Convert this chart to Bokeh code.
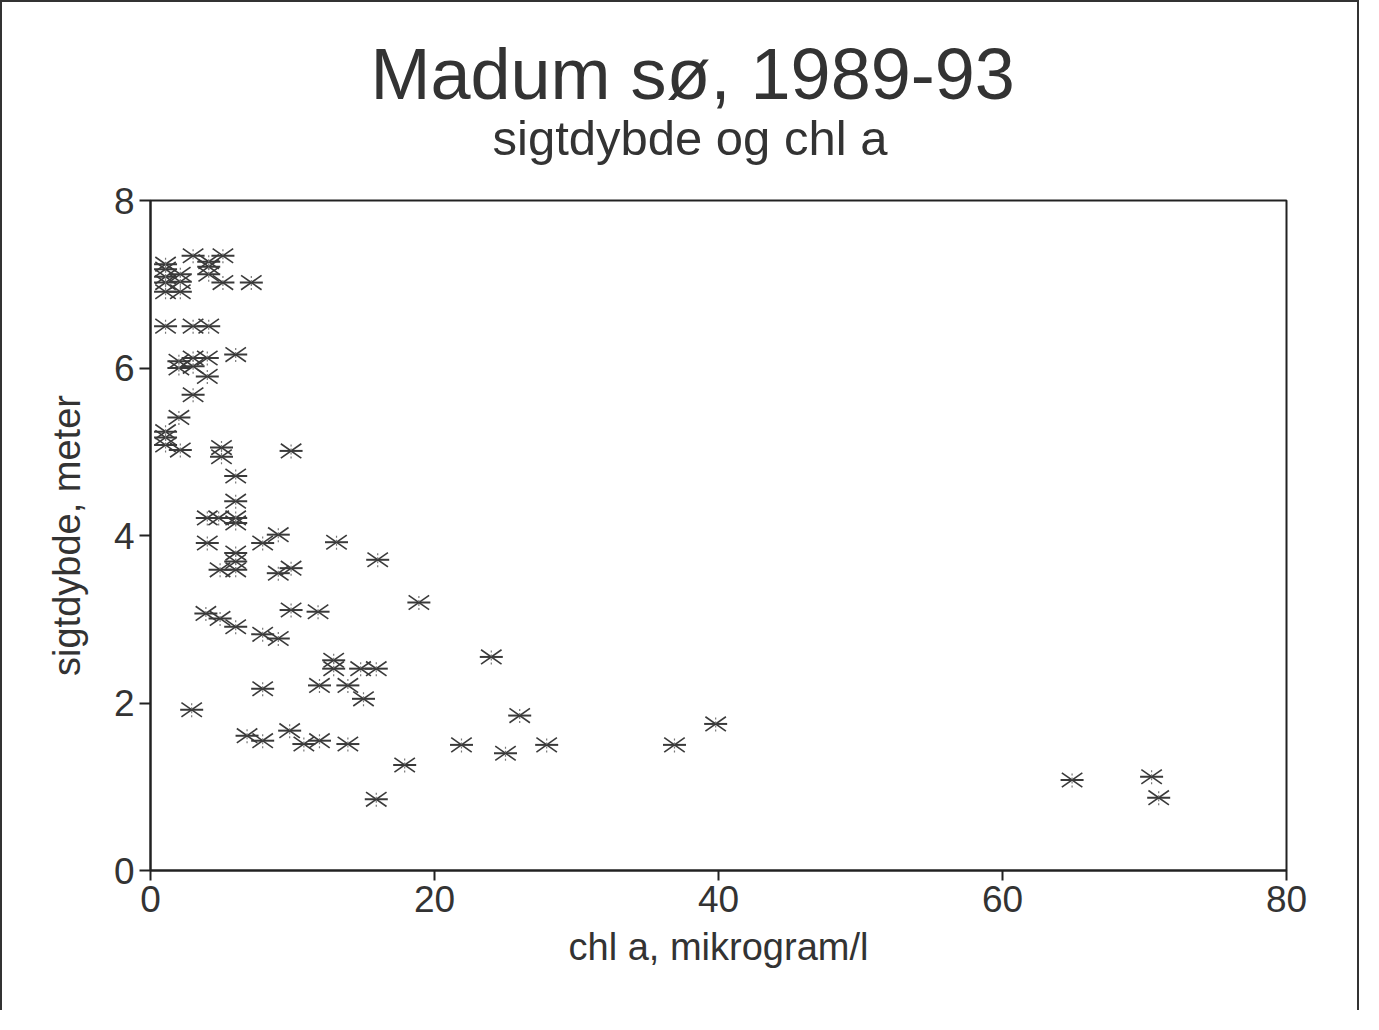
from bokeh.plotting import figure
from bokeh.models import ColumnDataSource, FixedTicker, Range1d, Title
from bokeh.embed import file_html
from bokeh.resources import INLINE

title_text = "Madum sø, 1989-93"
subtitle_text = "sigtdybde og chl a"
x_label = "chl a, mikrogram/l"
y_label = "sigtdybde, meter"
x_ticks = [0, 20, 40, 60, 80]
y_ticks = [0, 2, 4, 6, 8]

chl = [1.06, 1.06, 1.06, 2.1, 2.1, 1.06, 1.06, 2.1, 3.0, 5.1, 4.1, 4.1, 4.1, 5.1, 7.1,
       1.06, 3.0, 4.1, 6.0, 2.0, 3.0, 4.0, 2.0, 3.0, 4.0, 3.0, 2.0, 1.06, 1.06, 1.06,
       2.1, 5.0, 5.0, 9.9,
       6.0, 6.0, 4.0, 4.8, 6.0, 6.0, 4.0, 7.9, 9.0, 6.0, 6.0, 4.9, 6.0, 9.0, 9.9, 13.1, 16.0,
       3.9, 4.9, 6.0, 7.9, 9.0, 9.9, 11.8, 18.9,
       12.9, 12.9, 14.8, 15.9, 11.9, 13.9, 15.0, 7.9, 2.9,
       6.8, 7.9, 9.8, 10.8, 11.9, 13.9, 17.9, 15.9,
       21.9, 24.0, 25.0, 26.0, 27.9, 36.9, 39.8, 64.9, 70.5, 71.0]
sigt = [7.24, 7.18, 7.09, 7.12, 7.03, 7.02, 6.91, 6.91, 7.34, 7.34, 7.27, 7.21, 7.12, 7.02, 7.02,
        6.5, 6.5, 6.5, 6.16, 6.08, 6.12, 6.12, 6.0, 6.02, 5.9, 5.68, 5.41, 5.24, 5.17, 5.08,
        5.02, 5.05, 4.94, 5.01,
        4.71, 4.41, 4.21, 4.21, 4.21, 4.15, 3.91, 3.91, 4.01, 3.79, 3.69, 3.59, 3.59, 3.55, 3.61, 3.92, 3.71,
        3.07, 3.01, 2.91, 2.82, 2.77, 3.11, 3.09, 3.2,
        2.51, 2.41, 2.41, 2.41, 2.21, 2.21, 2.05, 2.17, 1.92,
        1.61, 1.55, 1.67, 1.51, 1.55, 1.51, 1.26, 0.85,
        1.5, 2.55, 1.4, 1.85, 1.5, 1.5, 1.75, 1.08, 1.12, 0.87]

src = ColumnDataSource(dict(x=chl, y=sigt))

FONT = "Liberation Sans"
INK = "#333333"

p = figure(width=1359, height=1010, output_backend="svg", toolbar_location=None,
           x_range=Range1d(0, 80), y_range=Range1d(0, 8),
           min_border_left=148, min_border_right=75, min_border_top=198, min_border_bottom=142)
p.styles = {"border-left": "2px solid #333", "border-top": "2px solid #333",
            "border-right": "2px solid #333"}

# stacked from the frame outward: spacer, subtitle, title
p.add_layout(Title(text=" ", text_font=FONT, text_font_size="10px", standoff=28), "above")
p.add_layout(Title(text=subtitle_text, align="left", offset=342, text_font=FONT,
                   text_font_size="49px", text_font_style="normal", text_color=INK,
                   standoff=-10), "above")
p.add_layout(Title(text=title_text, align="left", offset=220, text_font=FONT,
                   text_font_size="72px", text_font_style="normal", text_color=INK,
                   standoff=0), "above")

p.xgrid.visible = False
p.ygrid.visible = False
p.outline_line_color = "#222222"
p.outline_line_width = 2

for ax in (p.xaxis[0], p.yaxis[0]):
    ax.axis_line_color = "#222222"
    ax.axis_line_width = 2
    ax.major_tick_line_color = "#222222"
    ax.major_tick_line_width = 2
    ax.major_tick_in = 0
    ax.major_tick_out = 11
    ax.minor_tick_line_color = None
    ax.major_label_text_font = FONT
    ax.major_label_text_font_size = "37px"
    ax.major_label_text_color = INK
    ax.axis_label_text_font = FONT
    ax.axis_label_text_font_size = "38px"
    ax.axis_label_text_font_style = "normal"
    ax.axis_label_text_color = INK

p.xaxis[0].ticker = FixedTicker(ticks=x_ticks)
p.yaxis[0].ticker = FixedTicker(ticks=y_ticks)
p.xaxis[0].axis_label = x_label
p.yaxis[0].axis_label = y_label
p.xaxis[0].major_tick_out = 10
p.xaxis[0].major_label_standoff = 5
p.yaxis[0].major_label_standoff = 5
p.xaxis[0].axis_label_standoff = 11
p.yaxis[0].axis_label_standoff = 23

# asterisk-like markers: horizontal bar, two slanted bars, faint vertical
p.scatter("x", "y", source=src, marker="dash", size=23, line_color="#3a3a3a", line_width=2)
p.scatter("x", "y", source=src, marker="dash", size=25, angle=0.61, line_color="#3a3a3a", line_width=1.6)
p.scatter("x", "y", source=src, marker="dash", size=25, angle=-0.61, line_color="#3a3a3a", line_width=1.6)
p.scatter("x", "y", source=src, marker="dash", size=15, angle=1.5708, line_color="#777777",
          line_width=1.2, line_dash="2 2")

open("out.html", "w").write(file_html(p, INLINE))
